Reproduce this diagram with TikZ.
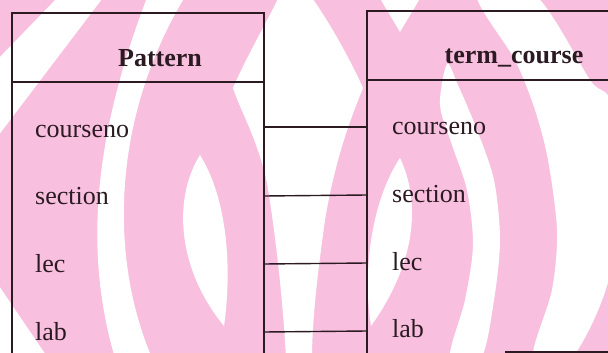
\documentclass[tikz,border=0pt]{standalone}
\usepackage{fontspec}
\setmainfont{Liberation Serif}
\usepackage{xcolor}
\definecolor{petal}{HTML}{F8C0DE}
\definecolor{ink}{HTML}{2B1A22}
\tikzset{
  field/.style={anchor=base west,inner sep=0pt,text=ink,font=\fontsize{26}{30}\selectfont},
  title/.style={anchor=base,inner sep=0pt,text=ink,font=\fontsize{26}{30}\selectfont\bfseries},
  frame/.style={draw=ink,line width=1.4pt},
  link/.style={draw=ink,line width=1.4pt}
}
\begin{document}
\begin{tikzpicture}[x=1pt,y=-1pt]
\useasboundingbox (0,0) rectangle (608,353);
\clip (0,0) rectangle (608,353);
\fill[petal] (0,0) rectangle (608,353);
\fill[white] (60,-5) -- (105,-5) -- (-5,140) -- (-5,62) -- cycle;
\fill[white] (-5,280) -- (48,358) -- (-5,358) -- cycle;
\fill[white] (148,-5) .. controls (100,120) and (80,240) .. (115,358) -- (152,358) .. controls (110,260) and (110,120) .. (186,-5) -- cycle;
\fill[white] (200,155) .. controls (172,200) and (178,270) .. (224,326) .. controls (232,270) and (228,200) .. (200,155) -- cycle;
\fill[white] (280,-5) -- (310,-5) .. controls (335,30) and (355,70) .. (363,88) .. controls (350,120) and (335,160) .. (325,220) .. controls (318,270) and (312,320) .. (312,358) -- (286,358) .. controls (283,300) and (275,230) .. (267,183) .. controls (258,140) and (240,110) .. (233,88) .. controls (245,60) and (265,25) .. (280,-5) -- cycle;
\fill[white] (378,-5) -- (422,-5) -- (400,32) -- cycle;
\fill[white] (400,158) .. controls (420,200) and (418,260) .. (371,326) .. controls (362,270) and (372,200) .. (400,158) -- cycle;
\fill[white] plot[smooth cycle] coordinates {(447,64) (458,85) (477,130) (494,180) (500,240) (494,300) (481,358) (450,358) (465,300) (473,245) (467,190) (452,145) (440,105)};
\fill[white] plot[smooth cycle] coordinates {(477,-5) (535,-5) (590,80) (612,110) (612,265) (572,358) (533,358) (552,290) (557,230) (548,160) (535,110) (515,60)};
\draw[frame] (12,360) -- (12,13) -- (264,13) -- (264,360);
\draw[frame] (12,82) -- (264,82);
\draw[frame] (615,11) -- (367,11) -- (367,360);
\draw[frame] (367,80) -- (615,80);
\draw[frame] (505,352) -- (615,352);
\node[title] (pattern) at (160,66.5) {Pattern};
\node[title] (termcourse) at (514,63.5) {term\_course};
\node[field] (pcourseno) at (35,137.5) {courseno};
\node[field] (psection) at (35,204.5) {section};
\node[field] (plec) at (35,272.5) {lec};
\node[field] (plab) at (35,340) {lab};
\node[field] (tcourseno) at (392,134.5) {courseno};
\node[field] (tsection) at (392,202) {section};
\node[field] (tlec) at (392,270) {lec};
\node[field] (tlab) at (392,337.5) {lab};
\coordinate (pcoursenoend) at (264,127);
\coordinate (psectionend) at (264,196);
\coordinate (plecend) at (264,264);
\coordinate (plabend) at (264,332);
\coordinate (tcoursenoend) at (367,127);
\coordinate (tsectionend) at (367,195);
\coordinate (tlecend) at (367,263);
\coordinate (tlabend) at (367,331);
\draw[link] (pcoursenoend) -- (tcoursenoend);
\draw[link] (psectionend) -- (tsectionend);
\draw[link] (plecend) -- (tlecend);
\draw[link] (plabend) -- (tlabend);
\end{tikzpicture}
\end{document}
